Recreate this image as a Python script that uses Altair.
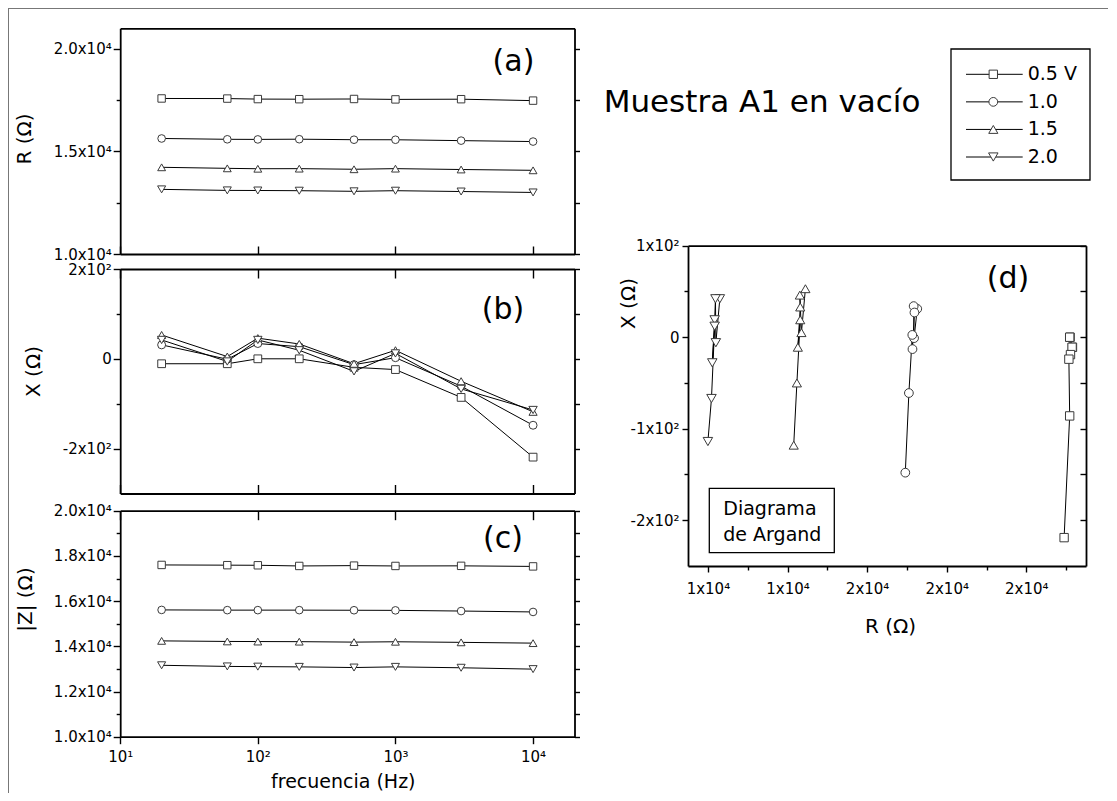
import altair as alt
import pandas as pd

# ---------------- data ----------------
FREQ = [20, 60, 100, 200, 500, 1000, 3000, 10000]
SERIES = ["0.5 V", "1.0", "1.5", "2.0"]
LEGEND_LABELS = ["0.5 V", "1.0", "1.5", "2.0"]
SHAPES = ["square", "circle", "triangle-up", "triangle-down"]

# R (ohm)
R_05 = [17580, 17575, 17550, 17545, 17555, 17535, 17545, 17475]
R_10 = [15630, 15590, 15585, 15595, 15570, 15568, 15525, 15480]
R_15 = [14225, 14175, 14155, 14160, 14130, 14160, 14118, 14078]
R_20 = [13150, 13100, 13095, 13085, 13055, 13085, 13045, 13000]

# X (ohm)
X_05 = [-11, -11, 0, 0, -19, -24, -86, -219]
X_10 = [31, -1, 34, 27, -13, 2.5, -61, -148]
X_15 = [53, 5, 46, 33, -11, 19, -50, -118]
X_20 = [42, -6, 42, 19, -28, 12, -67, -114]

# |Z| (ohm)
Z_05 = [17600, 17590, 17585, 17555, 17570, 17555, 17560, 17535]
Z_10 = [15610, 15600, 15600, 15600, 15595, 15590, 15560, 15520]
Z_15 = [14240, 14215, 14210, 14205, 14185, 14200, 14175, 14140]
Z_20 = [13160, 13110, 13100, 13090, 13060, 13090, 13050, 12990]

FREQ_TICKS = [10, 100, 1000, 10000]
FREQ_TICK_LABELS = ["10¹", "10²", "10³", "10⁴"]
R_TICKS = [10000, 15000, 20000]
R_TICK_LABELS = ["1.0x10⁴", "1.5x10⁴", "2.0x10⁴"]
R_MINOR = [12500, 17500]
X_TICKS = [-200, 0, 200]
X_TICK_LABELS = ["-2x10²", "0", "2x10²"]
X_MINOR = [-100, 100]
Z_TICKS = [10000, 12000, 14000, 16000, 18000, 20000]
Z_TICK_LABELS = ["1.0x10⁴", "1.2x10⁴", "1.4x10⁴", "1.6x10⁴", "1.8x10⁴", "2.0x10⁴"]
Z_MINOR = [11000, 13000, 15000, 17000, 19000]
DX_TICKS = [13000, 14000, 15000, 16000, 17000]
DX_TICK_LABELS = ["1x10⁴", "1x10⁴", "2x10⁴", "2x10⁴", "2x10⁴"]
DX_MINOR = [13500, 14500, 15500, 16500, 17500]
DY_TICKS = [-200, -100, 0, 100]
DY_TICK_LABELS = ["-2x10²", "-1x10²", "0", "1x10²"]
DY_MINOR = [-150, -50, 50]

rows = []
for s, rr, xx, zz in zip(SERIES, [R_05, R_10, R_15, R_20], [X_05, X_10, X_15, X_20],
                         [Z_05, Z_10, Z_15, Z_20]):
    for f, r, x, z in zip(FREQ, rr, xx, zz):
        rows.append({"serie": s, "freq": f, "R": r, "X": x, "Z": z})
df = pd.DataFrame(rows)
legend_df = pd.DataFrame({"serie": SERIES, "label": LEGEND_LABELS})

# ---------------- layout (group pixel coordinates) ----------------
W, H = 1100, 785
FONT = "DejaVu Sans"
LX0, LX1 = 112.2, 566.5
A_Y0, A_Y1 = 246.0, 20.3
B_Y0, B_Y1 = 485.5, 261.0
C_Y0, C_Y1 = 728.7, 502.7
D_X0, D_X1 = 680.0, 1078.0
D_Y0, D_Y1 = 558.0, 237.7


def sc(domain, rng, typ="linear"):
    if typ == "log":
        return alt.Scale(type="log", domain=domain, range=rng, nice=False)
    return alt.Scale(domain=domain, range=rng, nice=False, zero=False)


xs_f = lambda: sc([10, 20000], [LX0, LX1], "log")
ys_a = lambda: sc([10000, 21000], [A_Y0, A_Y1])
ys_b = lambda: sc([-300, 200], [B_Y0, B_Y1])
ys_c = lambda: sc([10000, 20000], [C_Y0, C_Y1])
xs_d = lambda: sc([12750, 17750], [D_X0, D_X1])
ys_d = lambda: sc([-250, 100], [D_Y0, D_Y1])


def label_expr(vals, labs):
    expr = "''"
    for v, l in reversed(list(zip(vals, labs))):
        expr = f"(datum.value == {v} ? '{l}' : {expr})"
    return expr


def make_axis(orient, offset, major, minor=(), labels=None, tick=7, minor_tick=4,
              ticks=True, title=None, tx=None, ty=None, pad=2, angle=None, tsize=20):
    vals = sorted(list(major) + list(minor))
    kw = dict(orient=orient, offset=offset, values=vals, grid=False,
              domainColor="black", domainWidth=1.8, tickColor="black", tickWidth=1.4,
              ticks=ticks, labelOverlap=False, labelFlush=False,
              labelFont=FONT, labelFontSize=15, labelColor="black", labelPadding=pad)
    if ticks:
        if minor:
            kw["tickSize"] = {"condition": {"test": f"indexof({list(major)}, datum.value) >= 0",
                                            "value": tick}, "value": minor_tick}
        else:
            kw["tickSize"] = tick
    if labels:
        kw["labels"] = True
        kw["labelExpr"] = label_expr(major, labels)
    else:
        kw["labels"] = False
    if title:
        kw.update(title=title, titleX=tx, titleY=ty, titleAlign="center",
                  titleBaseline="middle", titleFont=FONT, titleFontSize=tsize,
                  titleFontWeight="normal", titleColor="black")
        if angle is not None:
            kw["titleAngle"] = angle
    else:
        kw["title"] = None
    return alt.Axis(**kw)


def axis_layer(xf, yf, xs, ys, xa, ya):
    return alt.Chart(df).mark_point(opacity=0).encode(
        x=alt.X(f"{xf}:Q", scale=xs, axis=xa),
        y=alt.Y(f"{yf}:Q", scale=ys, axis=ya),
    )


def data_layers(xf, yf, xs_fn, ys_fn, sizes):
    line = alt.Chart(df).mark_line(color="black", strokeWidth=1).encode(
        x=alt.X(f"{xf}:Q", scale=xs_fn(), axis=None),
        y=alt.Y(f"{yf}:Q", scale=ys_fn(), axis=None),
        detail="serie:N",
        order=alt.Order("freq:Q"),
    )
    pts = alt.Chart(df).mark_point(filled=True, fill="white", stroke="#3a3a3a",
                                   strokeWidth=1, opacity=1).encode(
        x=alt.X(f"{xf}:Q", scale=xs_fn(), axis=None),
        y=alt.Y(f"{yf}:Q", scale=ys_fn(), axis=None),
        shape=alt.Shape("serie:N", scale=alt.Scale(domain=SERIES, range=SHAPES), legend=None),
        size=alt.Size("serie:N", scale=alt.Scale(domain=SERIES, range=sizes), legend=None),
    )
    return [line, pts]


layers = []

# ---- panel (a): R vs f ----
layers.append(axis_layer("freq", "R", xs_f(), ys_a(),
                         make_axis("top", -A_Y0, FREQ_TICKS, tick=8),
                         make_axis("left", -LX0, R_TICKS, R_MINOR, R_TICK_LABELS,
                                   title="R (Ω)", tx=16 - LX0, ty=130.5, angle=270)))
layers.append(axis_layer("freq", "R", xs_f(), ys_a(),
                         make_axis("top", -A_Y1, FREQ_TICKS, ticks=False),
                         make_axis("right", LX1 - W, R_TICKS, R_MINOR, tick=5, minor_tick=5)))
layers += data_layers("freq", "R", xs_f, ys_a, [55, 65, 85, 85])

# ---- panel (b): X vs f ----
layers.append(axis_layer("freq", "X", xs_f(), ys_b(),
                         make_axis("top", -B_Y0, FREQ_TICKS, tick=9),
                         make_axis("left", -LX0, X_TICKS, X_MINOR, X_TICK_LABELS,
                                   title="X (Ω)", tx=25 - LX0, ty=363, angle=270)))
layers.append(axis_layer("freq", "X", xs_f(), ys_b(),
                         make_axis("bottom", B_Y1 - H, FREQ_TICKS, tick=9),
                         make_axis("right", LX1 - W, X_TICKS, X_MINOR, tick=5, minor_tick=5)))
layers += data_layers("freq", "X", xs_f, ys_b, [60, 70, 95, 95])

# ---- panel (c): |Z| vs f ----
layers.append(axis_layer("freq", "Z", xs_f(), ys_c(),
                         make_axis("bottom", C_Y0 - H, FREQ_TICKS, labels=FREQ_TICK_LABELS,
                                   tick=7, pad=6, title="frecuencia (Hz)", tx=334.8,
                                   ty=44.5, tsize=19),
                         make_axis("left", -LX0, Z_TICKS, Z_MINOR, Z_TICK_LABELS,
                                   title="|Z| (Ω)", tx=17 - LX0, ty=591, angle=270)))
layers.append(axis_layer("freq", "Z", xs_f(), ys_c(),
                         make_axis("bottom", C_Y1 - H, FREQ_TICKS, tick=9),
                         make_axis("right", LX1 - W, Z_TICKS, Z_MINOR, tick=5, minor_tick=5)))
layers += data_layers("freq", "Z", xs_f, ys_c, [55, 65, 85, 85])

# ---- panel (d): Argand diagram ----
layers.append(axis_layer("R", "X", xs_d(), ys_d(),
                         make_axis("bottom", D_Y0 - H, DX_TICKS, DX_MINOR, DX_TICK_LABELS,
                                   tick=6, minor_tick=4, pad=9, title="R (Ω)", tx=882,
                                   ty=60.7),
                         make_axis("left", -D_X0, DY_TICKS, DY_MINOR, DY_TICK_LABELS,
                                   tick=6, minor_tick=4, pad=3, title="X (Ω)", tx=-60,
                                   ty=295, angle=270)))
layers.append(axis_layer("R", "X", xs_d(), ys_d(),
                         make_axis("top", -D_Y1, DX_TICKS, ticks=False),
                         make_axis("left", -D_X1, DY_TICKS, DY_MINOR, tick=6, minor_tick=6)))
layers += data_layers("R", "X", xs_d, ys_d, [70, 90, 135, 135])

# ---- annotations ----
one = alt.Data(values=[{}])


def txt(t, x, y, size, align="center", baseline="middle"):
    return alt.Chart(one).mark_text(text=t, font=FONT, fontSize=size, align=align,
                                    baseline=baseline, color="black").encode(
        x=alt.value(x), y=alt.value(y))


layers.append(txt("(a)", 505.5, 54, 30))
layers.append(txt("(b)", 495, 302, 30))
layers.append(txt("(c)", 495, 531, 30))
layers.append(txt("(d)", 1000, 271, 30))
layers.append(txt("Muestra A1 en vacío", 754, 103.7, 31, baseline="alphabetic"))

# Argand box
layers.append(alt.Chart(one).mark_rect(fill="white", stroke="black", strokeWidth=1.3).encode(
    x=alt.value(701.3), x2=alt.value(826.3), y=alt.value(480.3), y2=alt.value(544.7)))
layers.append(txt("Diagrama", 715.3, 507, 19, align="left", baseline="alphabetic"))
layers.append(txt("de Argand", 715.3, 532.5, 19, align="left", baseline="alphabetic"))

# legend
layers.append(alt.Chart(one).mark_rect(fill="white", stroke="black", strokeWidth=1.3).encode(
    x=alt.value(943), x2=alt.value(1082), y=alt.value(41), y2=alt.value(172)))
leg_y = alt.Y("serie:N", scale=alt.Scale(type="point", domain=SERIES, range=[66.3, 149],
                                         padding=0), axis=None)
layers.append(alt.Chart(legend_df).mark_rule(color="black", strokeWidth=1).encode(
    x=alt.value(958), x2=alt.value(1014.7), y=leg_y))
layers.append(alt.Chart(legend_df).mark_point(filled=True, fill="white", stroke="#3a3a3a",
                                              strokeWidth=1, opacity=1).encode(
    x=alt.value(985.3), y=leg_y,
    shape=alt.Shape("serie:N", scale=alt.Scale(domain=SERIES, range=SHAPES), legend=None),
    size=alt.Size("serie:N", scale=alt.Scale(domain=SERIES, range=[70, 90, 120, 120]),
                  legend=None)))
layers.append(alt.Chart(legend_df).mark_text(font=FONT, fontSize=19, align="left",
                                             baseline="middle", color="black").encode(
    x=alt.value(1019.7), y=leg_y, text="label:N"))

# outer frame (top and left edges)
layers.append(alt.Chart(one).mark_rule(color="#777", strokeWidth=1).encode(
    x=alt.value(0.5), y=alt.value(0), y2=alt.value(H)))
layers.append(alt.Chart(one).mark_rule(color="#777", strokeWidth=1).encode(
    x=alt.value(0), x2=alt.value(W), y=alt.value(0.5)))

chart = alt.layer(*layers).resolve_scale(
    x="independent", y="independent", shape="independent", size="independent"
).resolve_axis(x="independent", y="independent").properties(
    width=W, height=H, autosize=alt.AutoSizeParams(type="none"), padding=0,
    background="white"
).configure_view(stroke=None)

chart.save("out.html", embed_options={"renderer": "svg", "actions": False})
